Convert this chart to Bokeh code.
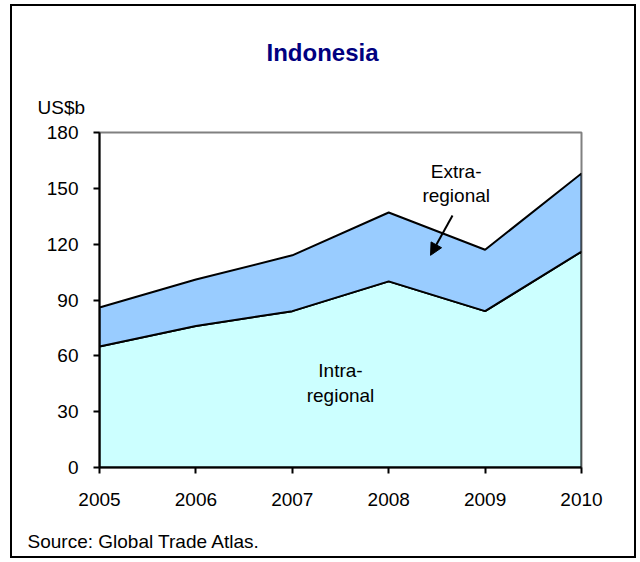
from bokeh.plotting import figure
from bokeh.models import Arrow, NormalHead, FixedTicker, Range1d, Label
from bokeh.layouts import column
from bokeh.core.properties import value
from bokeh.embed import file_html
from bokeh.resources import INLINE

# ---- data ----
years = [2005, 2006, 2007, 2008, 2009, 2010]
intra_regional = [65, 76, 84, 100, 84, 116]
total_trade = [86, 101, 114, 137, 117, 158]
y_ticks = [0, 30, 60, 90, 120, 150, 180]
x_tick_labels = ["2005", "2006", "2007", "2008", "2009", "2010"]

FONT = "Liberation Sans"
W = 622
TOP_H, MAIN_H, BOT_H = 114, 395, 41


def text_fig(h):
    f = figure(width=W, height=h, x_range=Range1d(0, W), y_range=Range1d(h, 0),
               x_axis_location=None, y_axis_location=None, min_border=0,
               frame_align=False, output_backend="svg", toolbar_location=None)
    f.xgrid.visible = False
    f.ygrid.visible = False
    f.outline_line_color = None
    return f


# ---- top strip: title and unit ----
top = text_fig(TOP_H)
top.text(x=[310], y=[46], text=["Indonesia"], text_font=value(FONT),
         text_font_size="24px", text_font_style="bold", text_color="#000080",
         text_align="center", text_baseline="middle")
top.text(x=[25], y=[101], text=["US$b"], text_font=value(FONT),
         text_font_size="19px", text_color="black",
         text_align="left", text_baseline="middle")

# ---- main chart ----
p = figure(width=W, height=MAIN_H, x_range=(2005, 2010), y_range=(0, 180),
           min_border_left=87, min_border_right=53, min_border_top=12,
           min_border_bottom=48, frame_align=False,
           output_backend="svg", toolbar_location=None)

p.patch(x=years + [years[-1], years[0]], y=intra_regional + [0, 0],
        fill_color="#CCFFFF", line_color="black", line_width=2)
p.patch(x=years + years[::-1], y=total_trade + intra_regional[::-1],
        fill_color="#99CCFF", line_color="black", line_width=2)

p.xgrid.visible = False
p.ygrid.visible = False
p.outline_line_color = "#808080"
p.outline_line_width = 2

for ax in (p.xaxis[0], p.yaxis[0]):
    ax.axis_line_color = "black"
    ax.axis_line_width = 2
    ax.major_tick_line_color = "black"
    ax.major_tick_line_width = 2
    ax.major_tick_in = 0
    ax.major_tick_out = 6
    ax.minor_tick_line_color = None
    ax.major_label_text_font = FONT
    ax.major_label_text_font_size = "19px"
    ax.major_label_text_color = "black"

p.yaxis[0].ticker = FixedTicker(ticks=y_ticks)
p.yaxis[0].major_label_standoff = 15
p.xaxis[0].ticker = FixedTicker(ticks=years)
p.xaxis[0].major_label_overrides = {y: s for y, s in zip(years, x_tick_labels)}
p.xaxis[0].major_label_standoff = 19


def lab(x, y, text):
    p.add_layout(Label(x=x, y=y, text=text, text_font=FONT, text_font_size="19px",
                       text_align="center", text_baseline="middle", text_color="black"))


lab(2008.70, 159, "Extra-")
lab(2008.70, 146, "regional")
lab(2007.50, 52, "Intra-")
lab(2007.50, 38.7, "regional")

p.add_layout(Arrow(x_start=2008.662, y_start=135.4, x_end=2008.434, y_end=114,
                   line_color="black", line_width=2,
                   end=NormalHead(size=12, fill_color="black", line_color="black")))

# ---- bottom strip: source ----
bot = text_fig(BOT_H)
bot.text(x=[15], y=[26], text=["Source: Global Trade Atlas."], text_font=value(FONT),
         text_font_size="19px", text_color="black",
         text_align="left", text_baseline="middle")

layout = column(top, p, bot, spacing=0)
layout.styles = {"border": "2px solid black", "margin-left": "10px", "margin-top": "4px"}

open("out.html", "w").write(file_html(layout, INLINE))
